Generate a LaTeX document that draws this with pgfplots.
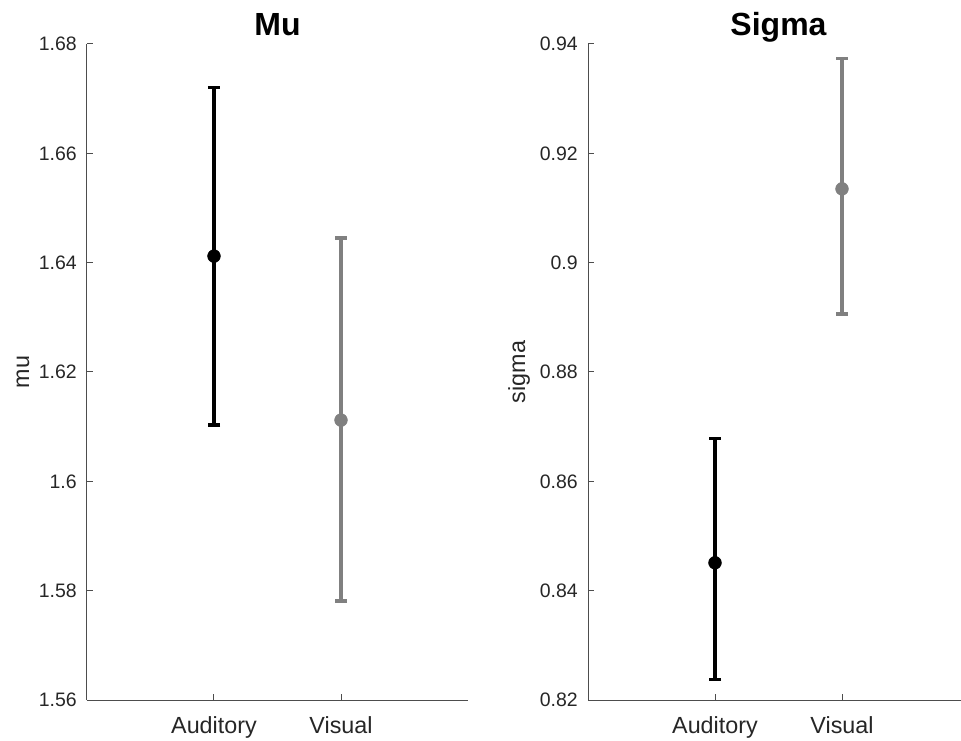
\documentclass[border=0pt]{standalone}
\usepackage{fontspec}
\setmainfont{Liberation Sans}
\usepackage{pgfplots}
\pgfplotsset{compat=1.18}
\definecolor{txt}{HTML}{262626}
\definecolor{axl}{HTML}{4D4D4D}
\definecolor{gr}{HTML}{808080}
\pgfplotsset{
  myax/.style={
    scale only axis,
    width=285.75pt, height=492pt,
    xmin=0, xmax=3,
    axis lines=left,
    axis line style={-, axl, line width=0.75pt},
    tick style={axl, line width=0.75pt},
    tick align=inside,
    major tick length=4.5pt,
    xtick={1,2}, xticklabels={Auditory,Visual},
    xticklabel style={anchor=base, yshift=-24.75pt, font=\fontsize{17.5}{20}\selectfont, text=txt},
    yticklabel style={anchor=east, inner sep=0pt, xshift=-7.5pt, font=\fontsize{14.6}{17}\selectfont, text=txt},
    title style={at={(axis description cs:0.5,1)}, anchor=base, yshift=0pt, font=\fontsize{24}{28}\selectfont\bfseries, text=black},
    ylabel style={at={(axis description cs:0,0.5)}, anchor=center, font=\fontsize{17.5}{20}\selectfont, text=txt},
    clip=false,
  },
  ebar/.style={
    only marks, mark=*, color=#1, mark size=4.8pt, mark options={draw=none, fill=#1},
    error bars/.cd, y dir=both, y explicit,
    error bar style={line width=2.5pt, color=#1},
    error mark=|,
    error mark options={line width=2.5pt, mark size=4.5pt, color=#1},
  },
}
\begin{document}
\begin{tikzpicture}
\useasboundingbox (-65.25pt,-30pt) rectangle (655.5pt,525pt);
\begin{axis}[myax, at={(0pt,0pt)}, anchor=south west,
  title={Mu}, ylabel={mu},
  ylabel style={yshift=48pt},
  ymin=1.56, ymax=1.68,
  ytick={1.56,1.58,1.60,1.62,1.64,1.66,1.68},
  yticklabels={1.56,1.58,1.6,1.62,1.64,1.66,1.68},
]
\addplot[ebar=black] coordinates {(1,1.6412) += (0,0.0309) -= (0,0.0309)};
\addplot[ebar=gr] coordinates {(2,1.6112) += (0,0.0333) -= (0,0.0331)};
\end{axis}
\begin{axis}[myax, at={(375.75pt,0pt)}, anchor=south west,
  title={Sigma}, ylabel={sigma},
  ylabel style={yshift=51.75pt},
  ymin=0.82, ymax=0.94,
  ytick={0.82,0.84,0.86,0.88,0.90,0.92,0.94},
  yticklabels={0.82,0.84,0.86,0.88,0.9,0.92,0.94},
]
\addplot[ebar=black] coordinates {(1,0.8451) += (0,0.0227) -= (0,0.0213)};
\addplot[ebar=gr] coordinates {(2,0.9135) += (0,0.0239) -= (0,0.0229)};
\end{axis}
\end{tikzpicture}
\end{document}
